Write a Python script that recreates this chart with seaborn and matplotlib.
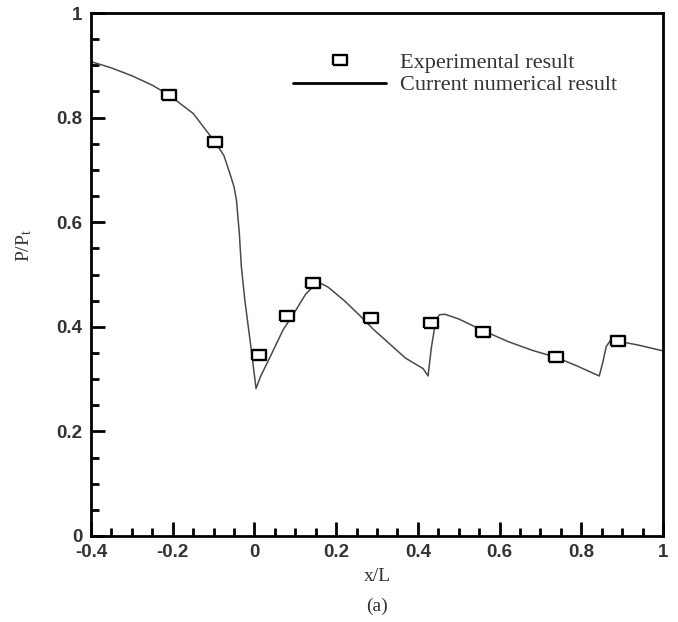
import matplotlib
matplotlib.use("Agg")
import matplotlib.pyplot as plt
import seaborn as sns
import pandas as pd
from matplotlib.ticker import MultipleLocator
from matplotlib.lines import Line2D

# Experimental result (squares)
exp_x = [-0.209, -0.097, 0.012, 0.080, 0.144, 0.286, 0.431, 0.559, 0.737, 0.889]
exp_y = [0.843, 0.754, 0.346, 0.421, 0.484, 0.416, 0.407, 0.391, 0.343, 0.373]

# Current numerical result (line)
num_x = [-0.400, -0.350, -0.300, -0.250, -0.209, -0.150, -0.097, -0.075, -0.060,
         -0.050, -0.044, -0.037, -0.032, -0.0235, -0.010, 0.004, 0.015, 0.040,
         0.070, 0.100, 0.125, 0.145, 0.160, 0.180, 0.220, 0.260, 0.290, 0.330,
         0.370, 0.413, 0.425, 0.433, 0.444, 0.453, 0.466, 0.500, 0.559, 0.620,
         0.680, 0.737, 0.790, 0.844, 0.852, 0.861, 0.873, 0.893, 0.940, 1.000]
num_y = [0.907, 0.895, 0.880, 0.862, 0.843, 0.808, 0.754, 0.728, 0.693,
         0.668, 0.642, 0.579, 0.515, 0.451, 0.370, 0.282, 0.305, 0.345,
         0.394, 0.430, 0.462, 0.478, 0.484, 0.476, 0.450, 0.420, 0.396, 0.368,
         0.340, 0.320, 0.306, 0.360, 0.413, 0.423, 0.424, 0.415, 0.393, 0.372,
         0.355, 0.342, 0.325, 0.306, 0.330, 0.362, 0.376, 0.372, 0.365, 0.354]

x_ticks = [-0.4, -0.2, 0, 0.2, 0.4, 0.6, 0.8, 1]
x_tick_labels = ["-0.4", "-0.2", "0", "0.2", "0.4", "0.6", "0.8", "1"]
y_ticks = [0, 0.2, 0.4, 0.6, 0.8, 1]
y_tick_labels = ["0", "0.2", "0.4", "0.6", "0.8", "1"]

df_num = pd.DataFrame({"x": num_x, "y": num_y})
df_exp = pd.DataFrame({"x": exp_x, "y": exp_y})

sns.set_style("ticks")
plt.rcParams["font.family"] = ["Liberation Serif", "DejaVu Serif"]
plt.rcParams["mathtext.fontset"] = "stix"

fig = plt.figure(figsize=(6.78, 6.22), dpi=100)
ax = fig.add_axes([91 / 678, 1 - 536 / 622, 572 / 678, 523 / 622])

rect = [(-1.25, -1), (1.25, -1), (1.25, 1), (-1.25, 1), (-1.25, -1)]

sns.lineplot(data=df_num, x="x", y="y", ax=ax, color="#4a4a4a", linewidth=1.1,
             sort=False, estimator=None, zorder=2)
sns.scatterplot(data=df_exp, x="x", y="y", ax=ax, marker=rect, s=90,
                facecolor="white", edgecolor="black", linewidth=1.7, zorder=3)

ax.set_xlim(-0.4, 1)
ax.set_ylim(0, 1)
ax.set_xticks(x_ticks)
ax.set_xticklabels(x_tick_labels)
ax.set_yticks(y_ticks)
ax.set_yticklabels(y_tick_labels)
ax.xaxis.set_minor_locator(MultipleLocator(0.05))
ax.yaxis.set_minor_locator(MultipleLocator(0.05))

for s in ax.spines.values():
    s.set_linewidth(2.0)
    s.set_color("black")
    s.set_visible(True)

ax.tick_params(which="major", direction="in", length=10, width=2, colors="black",
               top=False, right=False, pad=6)
ax.tick_params(which="minor", direction="in", length=6, width=2, colors="black",
               top=False, right=False)
for lab in ax.get_xticklabels() + ax.get_yticklabels():
    lab.set_family(["Liberation Sans", "DejaVu Sans"])
    lab.set_fontweight("bold")
    lab.set_fontsize(13.5)
    lab.set_color("#333333")

ax.set_xlabel("x/L", fontsize=14, color="#333333")
ax.set_ylabel(r"P/P$_{\mathrm{t}}$", fontsize=14, color="#333333")
ax.xaxis.set_label_coords(0.5, -0.062)
ax.yaxis.set_label_coords(-0.100, 0.556)

fig.text(377 / 678, 1 - 606 / 622, "(a)", ha="center", va="center",
         fontsize=14, color="#333333")

handles = [
    Line2D([], [], linestyle="none", marker=rect, markersize=9.5,
           markerfacecolor="white", markeredgecolor="black", markeredgewidth=1.7),
    Line2D([], [], color="black", linewidth=2.0),
]
ax.legend(handles, ["Experimental result", "Current numerical result"],
          loc="upper left", bbox_to_anchor=(293 / 678, 1 - 52 / 622),
          bbox_transform=fig.transFigure, frameon=False, fontsize=16,
          handlelength=4.2, handletextpad=0.6, labelspacing=0.1,
          borderpad=0, borderaxespad=0)
for t in ax.get_legend().get_texts():
    t.set_color("#333333")

fig.savefig("out.png", dpi=100)
